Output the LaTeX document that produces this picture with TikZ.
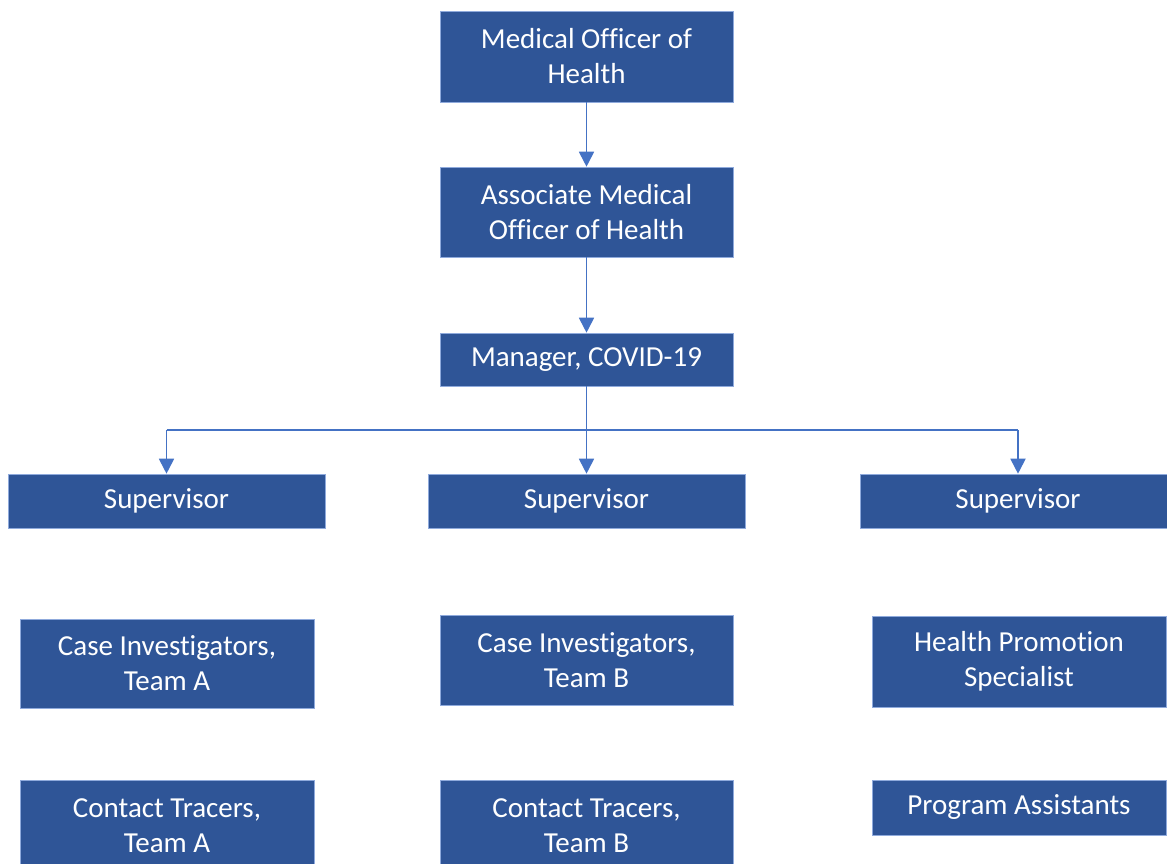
\documentclass[tikz,border=0pt]{standalone}
\usepackage{fontspec}
\setmainfont[Ligatures=NoCommon]{Carlito}
\usetikzlibrary{arrows.meta}
\definecolor{boxblue}{HTML}{2F5597}
\definecolor{boxedge}{HTML}{8FAADC}
\definecolor{linkblue}{HTML}{4472C4}
\begin{document}
\begin{tikzpicture}[x=1pt,y=-1pt,
  orgbox/.style={rectangle,fill=boxblue,draw=boxedge,line width=0.6pt,
    text=white,inner sep=0pt,align=center,
    font=\fontsize{29}{35}\selectfont},
  link/.style={draw=linkblue,line width=1.8pt},
  arrowlink/.style={link,-{Triangle[width=15pt,length=15pt]}}]
\useasboundingbox (0,0) rectangle (1167,863);
\clip (0,0) rectangle (1167,863);

% top chain
\node[orgbox,minimum width=293pt,minimum height=91pt] (moh) at (586.5,56.5) {Medical Officer of\\Health};
\node[orgbox,minimum width=293pt,minimum height=90pt] (amoh) at (586.5,212) {Associate Medical\\Officer of Health};
\node[orgbox,minimum width=293pt,minimum height=53pt] (mgr) at (586.5,359.5) {Manager, COVID-19};

% supervisors
\node[orgbox,minimum width=317pt,minimum height=54pt] (supL) at (166.5,501) {Supervisor};
\node[orgbox,minimum width=317pt,minimum height=54pt] (supM) at (586.5,501) {Supervisor};
\node[orgbox,minimum width=316pt,minimum height=54pt] (supR) at (1018,501) {Supervisor};

% teams
\node[orgbox,minimum width=294pt,minimum height=89pt] (caseA) at (167,663.5) {Case Investigators,\\Team A};
\node[orgbox,minimum width=293pt,minimum height=90pt] (caseB) at (586.5,660) {Case Investigators,\\Team B};
\node[orgbox,minimum width=294pt,minimum height=91pt] (hps) at (1019,661.5) {Health Promotion\\Specialist};

\node[orgbox,minimum width=294pt,minimum height=92pt] (ctA) at (167,826) {Contact Tracers,\\Team A};
\node[orgbox,minimum width=293pt,minimum height=92pt] (ctB) at (586.5,826) {Contact Tracers,\\Team B};
\node[orgbox,minimum width=294pt,minimum height=55pt] (pa) at (1019,807.5) {Program Assistants};

% connectors
\coordinate (bus) at (0,430);
\draw[arrowlink] (moh.south) -- (amoh.north);
\draw[arrowlink] (amoh.south) -- (mgr.north);
\draw[arrowlink] (mgr.south) -- (supM.north);
\draw[link] (supL.north |- bus) -- (supR.north |- bus);
\draw[arrowlink] (supL.north |- bus) -- (supL.north);
\draw[arrowlink] (supR.north |- bus) -- (supR.north);
\end{tikzpicture}
\end{document}
